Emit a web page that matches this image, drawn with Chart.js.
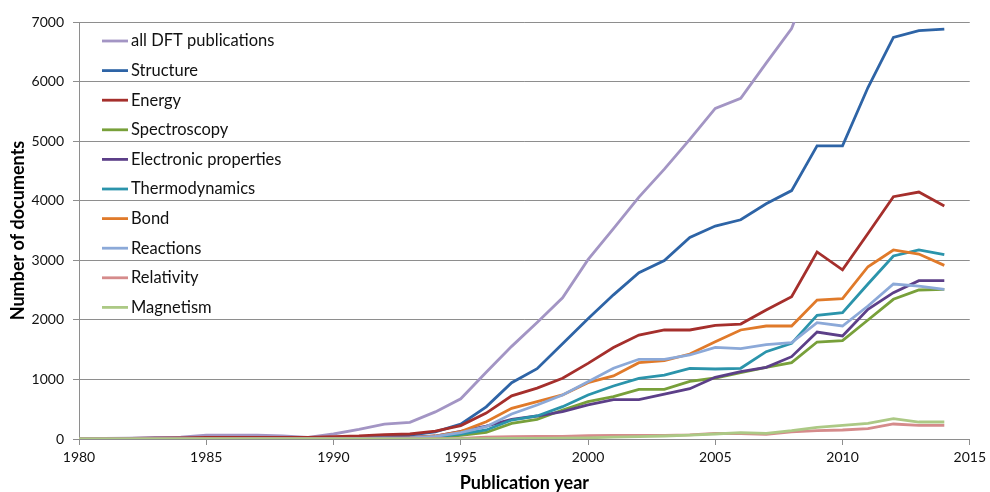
<!DOCTYPE html>
<html>
<head>
<meta charset="utf-8">
<script src="https://cdn.jsdelivr.net/npm/chart.js@4.4.1/dist/chart.umd.min.js"></script>
<style>
html,body{margin:0;padding:0;background:#fff;}
#wrap{width:990px;height:492px;position:relative;}
</style>
</head>
<body>
<div id="wrap"><canvas id="c" width="990" height="492"></canvas></div>
<script>
const years = [1980,1981,1982,1983,1984,1985,1986,1987,1988,1989,1990,1991,1992,1993,1994,1995,1996,1997,1998,1999,2000,2001,2002,2003,2004,2005,2006,2007,2008,2009,2010,2011,2012,2013,2014];
const seriesNames = ["all DFT publications","Structure","Energy","Spectroscopy","Electronic properties","Thermodynamics","Bond","Reactions","Relativity","Magnetism"];
const allDFT = [0,10,15,25,30,65,65,65,50,28,84,160,250,280,455,675,1120,1555,1955,2370,3010,3530,4060,4530,5030,5550,5720,6310,6890,8000,null,null,null,null,null];
const structure = [0,2,5,8,10,12,14,15,15,12,20,30,45,65,120,250,540,945,1180,1600,2020,2420,2790,2995,3385,3575,3680,3950,4170,4920,4920,5900,6740,6855,6880];
const energy = [0,5,10,15,20,25,28,28,28,25,40,50,73,84,134,225,435,725,855,1020,1270,1535,1745,1830,1830,1908,1930,2165,2390,3140,2840,3450,4067,4146,3911];
const spectroscopy = [0,0,1,1,2,2,3,3,3,3,5,8,10,12,25,60,110,263,331,487,626,710,834,834,968,1024,1113,1203,1281,1628,1650,1998,2345,2501,2513];
const electronic = [0,1,1,2,2,3,3,4,4,4,8,12,20,25,50,130,215,331,386,459,571,660,660,755,845,1036,1130,1203,1382,1796,1729,2177,2456,2658,2658];
const thermodynamics = [0,0,1,1,2,2,3,3,3,3,5,8,12,15,35,84,151,319,386,543,739,890,1019,1074,1187,1175,1187,1466,1606,2076,2121,2602,3072,3173,3094];
const bond = [0,1,1,2,2,3,3,4,4,4,5,10,15,20,50,123,290,515,626,739,946,1058,1281,1315,1427,1634,1830,1897,1897,2333,2355,2892,3173,3105,2915];
const reactions = [0,1,1,2,2,3,3,4,4,4,5,10,15,20,45,106,207,420,571,739,962,1187,1338,1338,1410,1539,1516,1583,1617,1952,1897,2233,2602,2568,2513];
const relativity = [0,0,0,0,1,1,1,1,1,1,2,2,3,3,5,10,30,40,45,45,55,60,62,62,70,95,90,80,118,140,151,173,252,230,230];
const magnetism = [0,0,0,0,0,0,0,0,0,0,1,1,1,2,2,3,5,8,10,15,20,30,40,50,65,84,106,95,140,196,230,263,341,285,285];
const xTicks = [1980,1985,1990,1995,2000,2005,2010,2015];
const yTicks = [0,1000,2000,3000,4000,5000,6000,7000];

const seriesValues = [allDFT,structure,energy,spectroscopy,electronic,thermodynamics,bond,reactions,relativity,magnetism];
const colors = ['#a395c4','#2e64a6','#a52f2c','#78a03a','#5c3f88','#2b94ab','#e07a2a','#8ca9d8','#d58b8b','#acc985'];

const datasets = seriesNames.map((name, i) => ({
  label: name,
  data: years.map((yr, j) => ({x: yr, y: seriesValues[i][j]})),
  borderColor: colors[i],
  backgroundColor: colors[i],
  borderWidth: 2.8,
  pointRadius: 0,
  tension: 0,
  spanGaps: false,
  order: seriesNames.length - i
}));

const FONT = 'Lato, "Open Sans", sans-serif';

const insideLegend = {
  id: 'insideLegend',
  afterDraw(chart) {
    const ctx = chart.ctx;
    ctx.save();
    ctx.font = '16.5px ' + FONT;
    ctx.textBaseline = 'middle';
    ctx.textAlign = 'left';
    chart.data.datasets.forEach((ds, i) => {
      const y = 41 + i * 29.6;
      ctx.strokeStyle = ds.borderColor;
      ctx.lineWidth = 2.8;
      ctx.beginPath();
      ctx.moveTo(102, y);
      ctx.lineTo(128, y);
      ctx.stroke();
      ctx.fillStyle = '#111';
      ctx.fillText(ds.label, 131, y);
    });
    ctx.restore();
  }
};

new Chart(document.getElementById('c'), {
  type: 'line',
  data: { datasets },
  plugins: [insideLegend],
  options: {
    responsive: false,
    animation: false,
    layout: { padding: { top: 22, right: 15, left: 0, bottom: 0 } },
    plugins: { legend: { display: false }, tooltip: { enabled: false } },
    scales: {
      x: {
        type: 'linear',
        min: 1980, max: 2015,
        afterFit(scale) { scale.height = 53; },
        afterBuildTicks(scale) { scale.ticks = xTicks.map(v => ({value: v})); },
        ticks: { color: '#111', font: { family: FONT, size: 14 }, padding: 4, maxRotation: 0, callback: v => String(v) },
        grid: { display: true, drawOnChartArea: false, drawTicks: true, tickLength: 6, color: '#8e8e8e', lineWidth: 1 },
        border: { display: true, color: '#8e8e8e', width: 1 },
        title: { display: true, text: 'Publication year', color: '#000', font: { family: FONT, size: 18, weight: 'bold' }, padding: { top: 0, bottom: -2 } }
      },
      y: {
        min: 0, max: 7000,
        afterFit(scale) { scale.width = 79; },
        afterBuildTicks(scale) { scale.ticks = yTicks.map(v => ({value: v})); },
        ticks: { color: '#111', font: { family: FONT, size: 14 }, padding: 9, callback: v => String(v) },
        grid: { color: '#8e8e8e', lineWidth: 1, drawTicks: true, tickLength: 6 },
        border: { display: true, color: '#8e8e8e', width: 1 },
        title: { display: true, text: 'Number of documents', color: '#000', font: { family: FONT, size: 18, weight: 'bold' }, padding: { top: 7, bottom: 0 } }
      }
    }
  }
});
</script>
</body>
</html>
